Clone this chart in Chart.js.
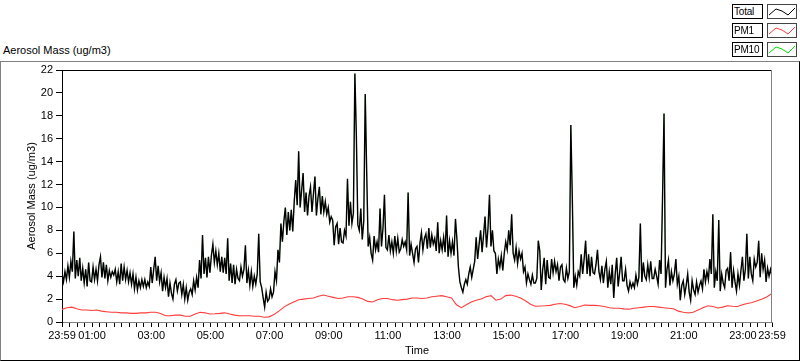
<!DOCTYPE html>
<html>
<head>
<meta charset="utf-8">
<script src="https://cdn.jsdelivr.net/npm/chart.js@4.4.1/dist/chart.umd.min.js"></script>
<style>
  html, body { margin: 0; padding: 0; background: #fff; }
  #wrap { position: relative; width: 800px; height: 361px; overflow: hidden; font-family: 'Liberation Sans', Arial, sans-serif; font-size: 11px; color: #000; }
  #frame { position: absolute; left: 0; top: 61px; width: 800px; height: 300px; box-sizing: border-box;
           border-top: 1px solid #808080; border-left: 1px solid #808080; border-right: 1px solid #000; border-bottom: 1px solid #000; }
  #plotName { position: absolute; left: 3px; top: 43px; line-height: 14px; }
  #chart { position: absolute; left: 0; top: 0; }
  .lg-row { position: absolute; left: 732px; width: 66px; height: 15px; }
  .lg-name { position: absolute; left: 0; top: 0; width: 31px; height: 15px; box-sizing: border-box; border: 1px solid #000;
             padding-left: 1px; line-height: 13px; background: #fff; font-size: 10px; letter-spacing: -0.2px; white-space: nowrap; overflow: hidden; }
  .lg-swatch { position: absolute; left: 35px; top: 0; width: 30px; height: 15px; box-sizing: border-box; border: 1px solid #444; background: #fff; }
  .lg-swatch svg { position: absolute; left: 0; top: 0; }
</style>
</head>
<body>
<div id="wrap">
  <div id="frame"></div>
  <div id="plotName">Aerosol Mass (ug/m3)</div>
  <canvas id="chart" width="800" height="361"></canvas>
  <div id="legend"></div>
</div>
<script>
// Total mass, one reading every 3 minutes from 23:59 (one row = one hour)
const totalStep = 3;
const total = [
  4.2, 3.5, 4.4, 3.7, 4.9, 3.9, 5.3, 4.4, 7.9, 3.8, 5.4, 4.0, 5.6, 3.6, 4.7, 3.4, 4.6, 3.1, 5.2, 3.6,
  3.5, 4.8, 3.7, 4.6, 3.6, 5.0, 5.7, 3.9, 5.2, 3.8, 5.0, 3.6, 4.5, 3.9, 4.4, 4.1, 4.6, 3.5, 4.4, 3.3,
  5.1, 3.6, 4.8, 3.7, 4.5, 3.5, 4.3, 3.3, 4.2, 2.9, 3.9, 2.8, 3.6, 3.0, 3.7, 3.1, 3.7, 3.0, 3.5, 3.1,
  4.8, 3.4, 4.6, 5.7, 3.6, 4.9, 3.5, 4.3, 2.7, 3.9, 3.0, 3.8, 2.2, 3.4, 2.5, 2.0, 3.3, 3.7, 2.7, 3.4,
  3.5, 2.4, 3.3, 2.0, 3.0, 1.9, 2.6, 2.9, 2.4, 3.6, 2.8, 3.9, 3.0, 5.4, 3.8, 7.6, 4.2, 5.6, 3.9, 5.7,
  4.3, 5.8, 6.8, 5.2, 6.2, 5.0, 6.0, 4.4, 5.7, 4.3, 5.6, 4.2, 7.3, 3.6, 5.1, 3.4, 5.0, 3.3, 4.6, 3.8,
  3.6, 4.8, 4.0, 4.6, 6.7, 3.4, 4.5, 3.2, 4.4, 3.1, 4.0, 3.3, 4.2, 7.7, 3.5, 3.0, 2.1, 1.3, 2.6, 1.8,
  2.0, 2.9, 2.2, 2.6, 4.4, 3.6, 6.3, 5.2, 8.6, 7.0, 8.8, 10.0, 7.6, 9.6, 8.0, 9.8, 7.9, 10.5, 12.4, 10.2,
  14.9, 10.0, 11.5, 13.0, 9.6, 11.3, 9.3, 11.0, 11.8, 9.6, 11.2, 12.7, 9.3, 10.8, 11.8, 9.4, 11.0, 9.6, 10.5, 9.4,
  10.0, 8.7, 9.2, 8.9, 6.7, 8.3, 8.6, 6.8, 8.2, 7.0, 6.9, 8.0, 7.5, 12.5, 8.4, 10.5, 8.6, 9.5, 21.7, 16.3,
  8.5, 8.0, 9.9, 7.2, 8.8, 19.9, 13.0, 6.6, 7.4, 6.0, 5.4, 7.5, 6.3, 7.0, 6.1, 9.9, 6.6, 8.2, 11.1, 6.5,
  6.3, 7.6, 6.2, 7.0, 6.0, 7.5, 6.2, 7.3, 6.1, 6.4, 7.2, 6.6, 7.0, 6.3, 11.3, 5.8, 6.8, 6.0, 5.2, 6.4,
  6.6, 5.2, 6.9, 7.8, 6.3, 7.3, 7.7, 6.4, 8.2, 6.5, 7.6, 6.8, 7.3, 6.2, 8.7, 6.0, 7.1, 6.3, 7.4, 6.1,
  9.3, 5.7, 7.1, 6.0, 7.0, 5.8, 9.0, 7.2, 4.8, 3.5, 3.0, 2.6, 3.3, 3.7, 3.3, 4.2, 4.8, 3.9, 4.6, 5.3,
  7.4, 5.5, 6.8, 8.0, 6.1, 7.6, 9.2, 6.5, 8.2, 11.1, 6.6, 8.0, 6.2, 6.0, 4.2, 5.5, 4.8, 5.8, 4.5, 6.0,
  7.0, 6.3, 8.0, 6.7, 9.4, 6.0, 5.4, 6.5, 5.1, 6.2, 5.5, 6.0, 4.4, 4.8, 3.4, 4.2, 3.7, 3.3, 4.1, 3.4,
  3.4, 3.8, 7.1, 6.2, 2.8, 4.6, 5.6, 3.3, 5.4, 3.9, 3.8, 5.5, 4.3, 5.3, 4.4, 5.0, 3.6, 4.8, 5.0, 3.7,
  3.5, 4.7, 3.8, 4.4, 17.2, 10.8, 3.0, 4.0, 3.2, 4.4, 4.0, 5.9, 4.2, 5.5, 7.1, 4.2, 5.9, 4.0, 5.7, 4.3,
  4.2, 5.0, 6.3, 4.4, 3.7, 4.9, 3.4, 4.6, 5.3, 3.0, 4.4, 3.3, 5.0, 2.1, 4.2, 5.6, 3.1, 4.3, 5.7, 3.6,
  3.6, 4.6, 3.2, 2.7, 3.5, 3.0, 3.4, 3.0, 4.1, 3.3, 3.9, 8.6, 3.5, 5.2, 4.0, 3.7, 5.0, 3.9, 5.3, 3.8,
  3.8, 4.6, 4.0, 3.3, 5.4, 4.2, 10.9, 18.2, 3.0, 4.6, 5.4, 3.2, 4.4, 3.6, 4.2, 5.5, 3.3, 4.0, 1.9, 3.2,
  3.6, 2.4, 3.2, 4.2, 2.6, 1.9, 3.6, 2.8, 2.4, 3.5, 2.6, 3.2, 3.6, 2.9, 4.6, 3.5, 4.4, 3.7, 5.5, 4.2,
  9.4, 3.0, 4.4, 3.6, 8.9, 2.7, 4.2, 3.4, 3.0, 4.5, 4.7, 3.6, 6.1, 3.0, 4.5, 3.5, 2.7, 4.2, 3.2, 4.5,
  5.7, 3.6, 4.6, 7.7, 3.8, 5.7, 4.2, 3.6, 5.5, 4.8, 5.2, 7.1, 3.9, 6.0, 4.6, 5.4, 3.5, 4.7, 4.0, 4.6,
  4.0
];

// PM10 sits right under the Total trace
const pm10 = total.slice();

// PM1, one reading every 10 minutes (one row = two hours)
const pm1Step = 10;
const pm1 = [
  1.1, 1.25, 1.3, 1.15, 1.05, 1.05, 1.0, 1.05, 0.95, 0.9, 0.85, 0.85,
  0.8, 0.8, 0.75, 0.75, 0.8, 0.8, 0.85, 0.85, 0.75, 0.55, 0.55, 0.6,
  0.6, 0.5, 0.5, 0.7, 0.85, 0.8, 0.7, 0.72, 0.75, 0.8, 0.7, 0.6,
  0.55, 0.55, 0.55, 0.5, 0.5, 0.42, 0.45, 0.65, 0.95, 1.3, 1.55, 1.75,
  1.95, 2.0, 2.05, 2.1, 2.25, 2.35, 2.25, 2.15, 2.05, 2.1, 2.2, 2.2,
  2.15, 2.0, 1.8, 1.75, 1.95, 2.05, 2.05, 1.95, 1.9, 1.95, 2.0, 2.1,
  2.1, 2.05, 2.1, 2.2, 2.25, 2.3, 2.2, 2.1, 1.5, 1.25, 1.5, 1.75,
  1.9, 2.0, 2.2, 2.3, 1.9, 2.0, 2.3, 2.35, 2.25, 2.1, 1.85, 1.55,
  1.38, 1.4, 1.42, 1.45, 1.55, 1.62, 1.55, 1.43, 1.25, 1.35, 1.48, 1.45,
  1.45, 1.42, 1.35, 1.25, 1.2, 1.2, 1.15, 1.12, 1.2, 1.25, 1.3, 1.35,
  1.35, 1.3, 1.25, 1.2, 1.15, 0.95, 0.85, 0.78, 0.85, 1.05, 1.25, 1.42,
  1.35, 1.22, 1.3, 1.42, 1.38, 1.35, 1.5, 1.62, 1.7, 1.85, 2.0, 2.2,
  2.5
];

// x axis: minutes after 23:59
const tickMinutes = [0, 61, 181, 301, 421, 541, 661, 781, 901, 1021, 1141, 1261, 1381, 1440];
const tickLabels = ['23:59', '01:00', '03:00', '05:00', '07:00', '09:00', '11:00', '13:00',
                    '15:00', '17:00', '19:00', '21:00', '23:00', '23:59'];
const yTicks = [0, 2, 4, 6, 8, 10, 12, 14, 16, 18, 20, 22];

const seriesNames = ['Total', 'PM1', 'PM10'];
const seriesColors = ['#000000', '#ff3b3b', '#00e000'];

const toPoints = (arr, step) => arr.map((v, i) => ({ x: i * step, y: v }));

// legend boxes, top right
const legendTops = [4, 23, 42];
const legend = document.getElementById('legend');
seriesNames.forEach((name, i) => {
  const row = document.createElement('div');
  row.className = 'lg-row';
  row.style.top = legendTops[i] + 'px';
  row.innerHTML = '<div class="lg-name">' + name + '</div>' +
    '<div class="lg-swatch"><svg width="28" height="13"><polyline points="1,10 8,4 14,6 20,10 27,3" fill="none" stroke="' +
    seriesColors[i] + '" stroke-width="1"/></svg></div>';
  legend.appendChild(row);
});

const plotFrame = {
  id: 'plotFrame',
  afterDatasetsDraw(chart) {
    const { ctx, chartArea: a } = chart;
    ctx.save();
    ctx.lineWidth = 1;
    ctx.strokeStyle = '#000';
    ctx.beginPath(); ctx.moveTo(a.left, a.top + 0.5); ctx.lineTo(a.right, a.top + 0.5); ctx.stroke();
    ctx.strokeStyle = '#808080';
    ctx.beginPath(); ctx.moveTo(a.right - 0.5, a.top); ctx.lineTo(a.right - 0.5, a.bottom); ctx.stroke();
    ctx.restore();
  }
};

const axisFont = { family: "'Liberation Sans', Arial, sans-serif", size: 11 };

new Chart(document.getElementById('chart'), {
  type: 'line',
  data: {
    datasets: [
      { label: seriesNames[0], data: toPoints(total, totalStep), borderColor: seriesColors[0], borderWidth: 1.4 },
      { label: seriesNames[1], data: toPoints(pm1, pm1Step), borderColor: seriesColors[1], borderWidth: 1.1 },
      { label: seriesNames[2], data: toPoints(pm10, totalStep), borderColor: seriesColors[2], borderWidth: 0.3 }
    ]
  },
  options: {
    responsive: false,
    animation: false,
    events: [],
    elements: { point: { radius: 0 }, line: { tension: 0 } },
    layout: { padding: { left: 0, top: 70, right: 28, bottom: 0 } },
    plugins: { legend: { display: false }, tooltip: { enabled: false } },
    scales: {
      x: {
        type: 'linear',
        min: 0,
        max: 1440,
        afterBuildTicks(scale) {
          const ticks = [0];
          for (let m = 16; m < 1440; m += 15) ticks.push(m);
          ticks.push(1440);
          scale.ticks = ticks.map(v => ({ value: v }));
        },
        afterFit(scale) { scale.height = 39; },
        ticks: {
          autoSkip: false,
          maxRotation: 0,
          padding: 2,
          color: '#000',
          font: axisFont,
          callback: v => {
            const i = tickMinutes.indexOf(v);
            return i >= 0 ? tickLabels[i] : '';
          }
        },
        grid: { drawOnChartArea: false, tickLength: 5, color: '#000' },
        border: { color: '#808080' },
        title: { display: true, text: 'Time', color: '#000', font: axisFont, padding: { top: 0, bottom: 3 } }
      },
      y: {
        min: 0,
        max: 22,
        afterBuildTicks(scale) { scale.ticks = yTicks.map(v => ({ value: v })); },
        afterFit(scale) { scale.width = 62; },
        ticks: { padding: 3, color: '#000', font: axisFont },
        grid: { drawOnChartArea: false, tickLength: 6, color: '#000' },
        border: { color: '#000' },
        title: { display: true, text: 'Aerosol Mass (ug/m3)', color: '#000', font: axisFont, padding: { top: 25, bottom: 0 } }
      }
    }
  },
  plugins: [plotFrame]
});
</script>
</body>
</html>
